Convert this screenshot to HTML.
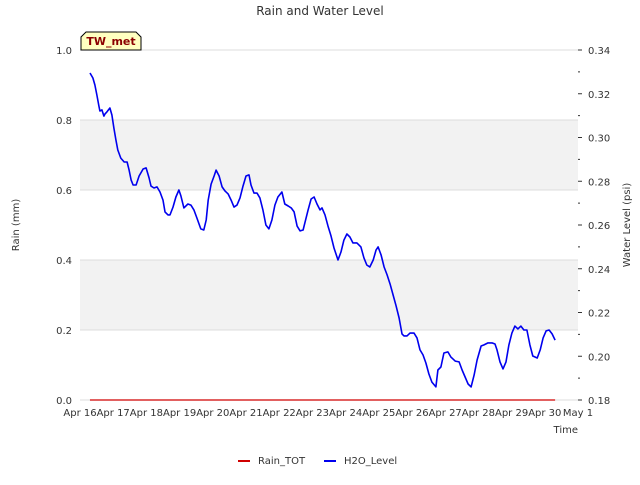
<!DOCTYPE html>
<html><head><meta charset="utf-8"><style>
body{margin:0;background:#fff;font-family:"Liberation Sans","DejaVu Sans",sans-serif}
svg text{font-family:"DejaVu Sans","Liberation Sans",sans-serif}
</style></head><body>
<svg id="c" width="640" height="480" xmlns="http://www.w3.org/2000/svg"></svg>
<script>
const xTickLabels=["Apr 16","Apr 17","Apr 18","Apr 19","Apr 20","Apr 21","Apr 22","Apr 23","Apr 24","Apr 25","Apr 26","Apr 27","Apr 28","Apr 29","Apr 30","May 1"];
const leftTicks=[0.0,0.2,0.4,0.6,0.8,1.0];
const rightTicks=[0.18,0.20,0.22,0.24,0.26,0.28,0.30,0.32,0.34];
const waterDays=[0.30,0.39,0.45,0.51,0.57,0.60,0.66,0.72,0.75,0.81,0.90,0.96,1.02,1.08,1.14,1.23,1.33,1.42,1.48,1.54,1.60,1.69,1.78,1.90,1.99,2.08,2.14,2.23,2.32,2.41,2.50,2.56,2.65,2.71,2.80,2.89,2.98,3.04,3.13,3.25,3.34,3.43,3.52,3.64,3.73,3.80,3.86,3.95,4.04,4.10,4.19,4.28,4.37,4.46,4.55,4.64,4.73,4.82,4.91,5.00,5.09,5.15,5.24,5.33,5.42,5.51,5.60,5.69,5.78,5.87,5.96,6.08,6.17,6.27,6.36,6.45,6.54,6.63,6.72,6.78,6.87,6.96,7.05,7.14,7.23,7.29,7.38,7.47,7.56,7.65,7.77,7.86,7.95,8.04,8.13,8.22,8.34,8.46,8.55,8.64,8.73,8.83,8.92,8.98,9.07,9.16,9.25,9.34,9.43,9.52,9.61,9.70,9.76,9.85,9.94,10.06,10.15,10.24,10.33,10.42,10.51,10.60,10.72,10.78,10.87,10.96,11.08,11.17,11.30,11.42,11.51,11.60,11.69,11.78,11.87,11.96,12.08,12.17,12.29,12.41,12.50,12.56,12.65,12.74,12.83,12.92,13.01,13.10,13.19,13.28,13.37,13.46,13.55,13.64,13.77,13.86,13.95,14.04,14.13,14.22,14.31];
const waterLevel=[0.3295,0.3272,0.3240,0.3194,0.3144,0.3121,0.3126,0.3098,0.3107,0.3117,0.3135,0.3103,0.3043,0.2989,0.2943,0.2906,0.2888,0.2888,0.2851,0.2806,0.2783,0.2783,0.2824,0.2856,0.2861,0.2815,0.2778,0.2769,0.2774,0.2751,0.2714,0.2660,0.2646,0.2646,0.2682,0.2728,0.2760,0.2733,0.2678,0.2696,0.2691,0.2669,0.2632,0.2582,0.2577,0.2623,0.2714,0.2787,0.2824,0.2851,0.2824,0.2774,0.2755,0.2742,0.2714,0.2682,0.2691,0.2724,0.2778,0.2824,0.2829,0.2783,0.2746,0.2746,0.2724,0.2669,0.2600,0.2582,0.2623,0.2691,0.2728,0.2751,0.2696,0.2687,0.2678,0.2660,0.2595,0.2573,0.2577,0.2614,0.2669,0.2719,0.2728,0.2696,0.2669,0.2678,0.2646,0.2595,0.2550,0.2495,0.2440,0.2477,0.2531,0.2559,0.2545,0.2518,0.2518,0.2500,0.2450,0.2417,0.2408,0.2440,0.2486,0.2500,0.2463,0.2408,0.2372,0.2330,0.2280,0.2230,0.2175,0.2102,0.2093,0.2093,0.2106,0.2106,0.2084,0.2029,0.2006,0.1969,0.1919,0.1882,0.1860,0.1937,0.1951,0.2015,0.2020,0.1997,0.1978,0.1974,0.1937,0.1905,0.1873,0.1860,0.1914,0.1983,0.2047,0.2052,0.2061,0.2061,0.2056,0.2029,0.1974,0.1942,0.1974,0.2052,0.2106,0.2138,0.2125,0.2138,0.2120,0.2120,0.2052,0.2001,0.1992,0.2029,0.2084,0.2116,0.2120,0.2102,0.2074];
const rainDays=[0.30,14.31];
const rainTot=[0,0];

const svg=document.getElementById('c');const NS='http://www.w3.org/2000/svg';
const L=80,R=578,T=50,B=400;
const xS=d=>L+d*(R-L)/15, yL=v=>B-v*(B-T), yR=v=>B-(v-0.18)/0.16*(B-T);
function mk(t,a,p){const e=document.createElementNS(NS,t);for(const k in a)e.setAttribute(k,a[k]);(p||svg).appendChild(e);return e;}
function tx(s,a){const e=mk('text',a);e.textContent=s;return e;}
let e;
e=mk('rect',{x:L,y:T,width:R-L,height:B-T,fill:'#fff'});
[[0.2,0.4],[0.6,0.8]].forEach(b=>{e=mk('rect',{x:L,y:yL(b[1]),width:R-L,height:yL(b[0])-yL(b[1]),fill:'#f2f2f2'});});
leftTicks.forEach(v=>{e=mk('line',{x1:L,x2:R,y1:yL(v),y2:yL(v),stroke:'#dcdcdc','stroke-width':1});
e=tx(v.toFixed(1),{x:L-8,y:yL(v)+4,'text-anchor':'end','font-size':10,fill:'#333'});});
rightTicks.forEach((v,i)=>{e=mk('line',{x1:R,x2:R+4,y1:yR(v),y2:yR(v),stroke:'#333'});
if(i<rightTicks.length-1){e=mk('line',{x1:R,x2:R+2,y1:yR(v+0.01),y2:yR(v+0.01),stroke:'#333'});}
e=tx(v.toFixed(2),{x:R+10,y:yR(v)+4,'font-size':10,fill:'#333'});});
xTickLabels.forEach((s,i)=>{e=tx(s,{x:xS(i),y:B+16,'text-anchor':'middle','font-size':10,fill:'#333'});});
let d=rainDays.map((t,i)=>(i?'L':'M')+xS(t)+','+yL(rainTot[i])).join('');
e=mk('path',{d:d,stroke:'#d00000','stroke-width':1.3,fill:'none'});
d=waterDays.map((t,i)=>(i?'L':'M')+xS(t).toFixed(1)+','+yR(waterLevel[i]).toFixed(1)).join('');
e=mk('path',{d:d,stroke:'#0000ee','stroke-width':1.6,fill:'none','stroke-linejoin':'round'});
e=tx('Rain and Water Level',{x:320,y:15,'text-anchor':'middle','font-size':12,fill:'#333'});
e=tx('Time',{x:578,y:433,'text-anchor':'end','font-size':10,fill:'#333'});
e=tx('Rain (mm)',{x:0,y:0,'text-anchor':'middle','font-size':10,fill:'#333',transform:'translate(19,225) rotate(-90)'});
e=tx('Water Level (psi)',{x:0,y:0,'text-anchor':'middle','font-size':10,fill:'#333',transform:'translate(630,225) rotate(-90)'});
e=mk('path',{d:'M81,50 L81,37 L86,32 L136,32 L141,37 L141,50 Z',fill:'#ffffc0',stroke:'#000','stroke-width':1});
e=tx('TW_met',{x:111,y:45,'text-anchor':'middle','font-size':11,'font-weight':'bold',fill:'#8b0000'});
e=mk('line',{x1:238,x2:250,y1:461,y2:461,stroke:'#d00000','stroke-width':2});
e=tx('Rain_TOT',{x:258,y:464,'font-size':10,fill:'#333'});
e=mk('line',{x1:324,x2:336,y1:461,y2:461,stroke:'#0000ee','stroke-width':2});
e=tx('H2O_Level',{x:344,y:464,'font-size':10,fill:'#333'});
</script>
</body></html>
